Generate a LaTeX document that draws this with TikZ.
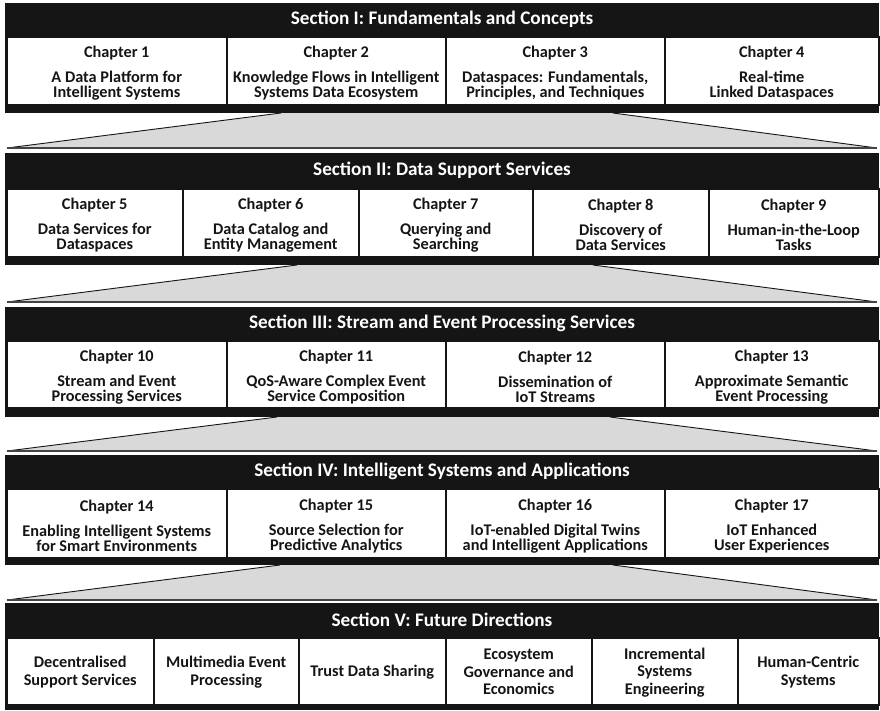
\documentclass[tikz,border=0pt]{standalone}
\usepackage{fontspec}
\setmainfont{Carlito}
\definecolor{ink}{HTML}{151515}
\definecolor{funnelgray}{HTML}{D9D9D9}
\tikzset{
  secblock/.style={fill=ink, draw=none, inner sep=0pt, anchor=north west},
  headtext/.style={text=white, inner sep=0pt, font=\bfseries\fontsize{19.2}{22}\selectfont},
  cell/.style={draw=ink, line width=1.5pt, fill=white, inner sep=0pt, anchor=north west},
  celltext/.style={inner sep=0pt, align=center, text=ink, font=\bfseries\fontsize{16.3}{15}\selectfont},
  futuretext/.style={inner sep=0pt, align=center, text=ink, font=\bfseries\fontsize{16.3}{17.5}\selectfont},
  funnelfill/.style={fill=funnelgray, draw=none},
  funnelside/.style={draw=ink, line width=0.9pt},
  funnelbase/.style={draw=ink!80, line width=1.4pt},
}
% one chapter cell: name, left x, right x, top y, height, text
\newcommand\chapbox[6]{%
  \node[cell, minimum width={#3-#2}, minimum height={#5}] (#1) at (#2,#4) {};
  \node[celltext, yshift=-2.5pt] (#1-t) at (#1.center) {#6};}
% one cell of the last section: name, left x, right x, top y, height, text
\newcommand\futurebox[6]{%
  \node[cell, minimum width={#3-#2}, minimum height={#5}] (#1) at (#2,#4) {};
  \node[futuretext, yshift=-1pt] (#1-t) at (#1.center) {#6};}
\begin{document}
\begin{tikzpicture}[x=1pt,y=-1pt]
\useasboundingbox (0,0) rectangle (880,710);
\fill[white] (0,0) rectangle (880,710);

% ---------- funnels between the sections ----------
\coordinate (f1a) at (281,113); \coordinate (f1b) at (613,113);
\coordinate (f1c) at (877,148); \coordinate (f1d) at (7,148);
\coordinate (f2a) at (297,265); \coordinate (f2b) at (593,265);
\coordinate (f2c) at (877,302); \coordinate (f2d) at (7,302);
\coordinate (f3a) at (277,417); \coordinate (f3b) at (610,417);
\coordinate (f3c) at (877,451); \coordinate (f3d) at (7,451);
\coordinate (f4a) at (280,565); \coordinate (f4b) at (613,565);
\coordinate (f4c) at (877,600); \coordinate (f4d) at (7,600);
\foreach \f in {f1,f2,f3,f4}{
  \path[funnelfill] (\f a) -- (\f b) -- (\f c) -- (\f d) -- cycle;
  \draw[funnelside] (\f a) -- (\f d);
  \draw[funnelside] (\f b) -- (\f c);
  \draw[funnelbase] (\f d) -- (\f c);
}

% ---------- Section I ----------
\node[secblock, minimum width=874, minimum height=110] (s1) at (5,3) {};
\node[headtext] (h1) at (442,19.5) {Section I: Fundamentals and Concepts};
\chapbox{c1}{6}{226}{36}{68}{Chapter 1\\[10pt]A Data Platform for\\Intelligent Systems}
\chapbox{c2}{226}{445}{36}{68}{Chapter 2\\[10pt]Knowledge Flows in Intelligent\\Systems Data Ecosystem}
\chapbox{c3}{445}{664}{36}{68}{Chapter 3\\[10pt]Dataspaces: Fundamentals,\\Principles, and Techniques}
\chapbox{c4}{664}{878}{36}{68}{Chapter 4\\[10pt]Real-time\\Linked Dataspaces}

% ---------- Section II ----------
\node[secblock, minimum width=874, minimum height=112] (s2) at (5,153) {};
\node[headtext] (h2) at (442,170.5) {Section II: Data Support Services};
\chapbox{c5}{6}{182}{188}{68}{Chapter 5\\[10pt]Data Services for\\Dataspaces}
\chapbox{c6}{182}{358}{188}{68}{Chapter 6\\[10pt]Data Catalog and\\Entity Management}
\chapbox{c7}{358}{532}{188}{68}{Chapter 7\\[10pt]Querying and\\Searching}
\chapbox{c8}{532}{708}{188}{68}{Chapter 8\\[10pt]Discovery of\\Data Services}
\chapbox{c9}{708}{878}{188}{68}{Chapter 9\\[10pt]Human-in-the-Loop\\Tasks}

% ---------- Section III ----------
\node[secblock, minimum width=874, minimum height=110] (s3) at (5,307) {};
\node[headtext] (h3) at (442,323.5) {Section III: Stream and Event Processing Services};
\chapbox{c10}{6}{226}{340}{67}{Chapter 10\\[10pt]Stream and Event\\Processing Services}
\chapbox{c11}{226}{445}{340}{67}{Chapter 11\\[10pt]QoS-Aware Complex Event\\Service Composition}
\chapbox{c12}{445}{664}{340}{67}{Chapter 12\\[10pt]Dissemination of\\IoT Streams}
\chapbox{c13}{664}{878}{340}{67}{Chapter 13\\[10pt]Approximate Semantic\\Event Processing}

% ---------- Section IV ----------
\node[secblock, minimum width=874, minimum height=110] (s4) at (5,455) {};
\node[headtext] (h4) at (442,471.5) {Section IV: Intelligent Systems and Applications};
\chapbox{c14}{6}{226}{488}{69}{Chapter 14\\[10pt]Enabling Intelligent Systems\\for Smart Environments}
\chapbox{c15}{226}{445}{488}{69}{Chapter 15\\[10pt]Source Selection for\\Predictive Analytics}
\chapbox{c16}{445}{664}{488}{69}{Chapter 16\\[10pt]IoT-enabled Digital Twins\\and Intelligent Applications}
\chapbox{c17}{664}{878}{488}{69}{Chapter 17\\[10pt]IoT Enhanced\\User Experiences}

% ---------- Section V ----------
\node[secblock, minimum width=874, minimum height=107] (s5) at (5,603) {};
\node[headtext] (h5) at (442,620) {Section V: Future Directions};
\futurebox{d1}{6}{153}{637}{67}{Decentralised\\Support Services}
\futurebox{d2}{153}{298}{637}{67}{Multimedia Event\\Processing}
\futurebox{d3}{298}{445}{637}{67}{Trust Data Sharing}
\futurebox{d4}{445}{591}{637}{67}{Ecosystem\\Governance and\\Economics}
\futurebox{d5}{591}{737}{637}{67}{Incremental\\Systems\\Engineering}
\futurebox{d6}{737}{878}{637}{67}{Human-Centric\\Systems}
\end{tikzpicture}
\end{document}
